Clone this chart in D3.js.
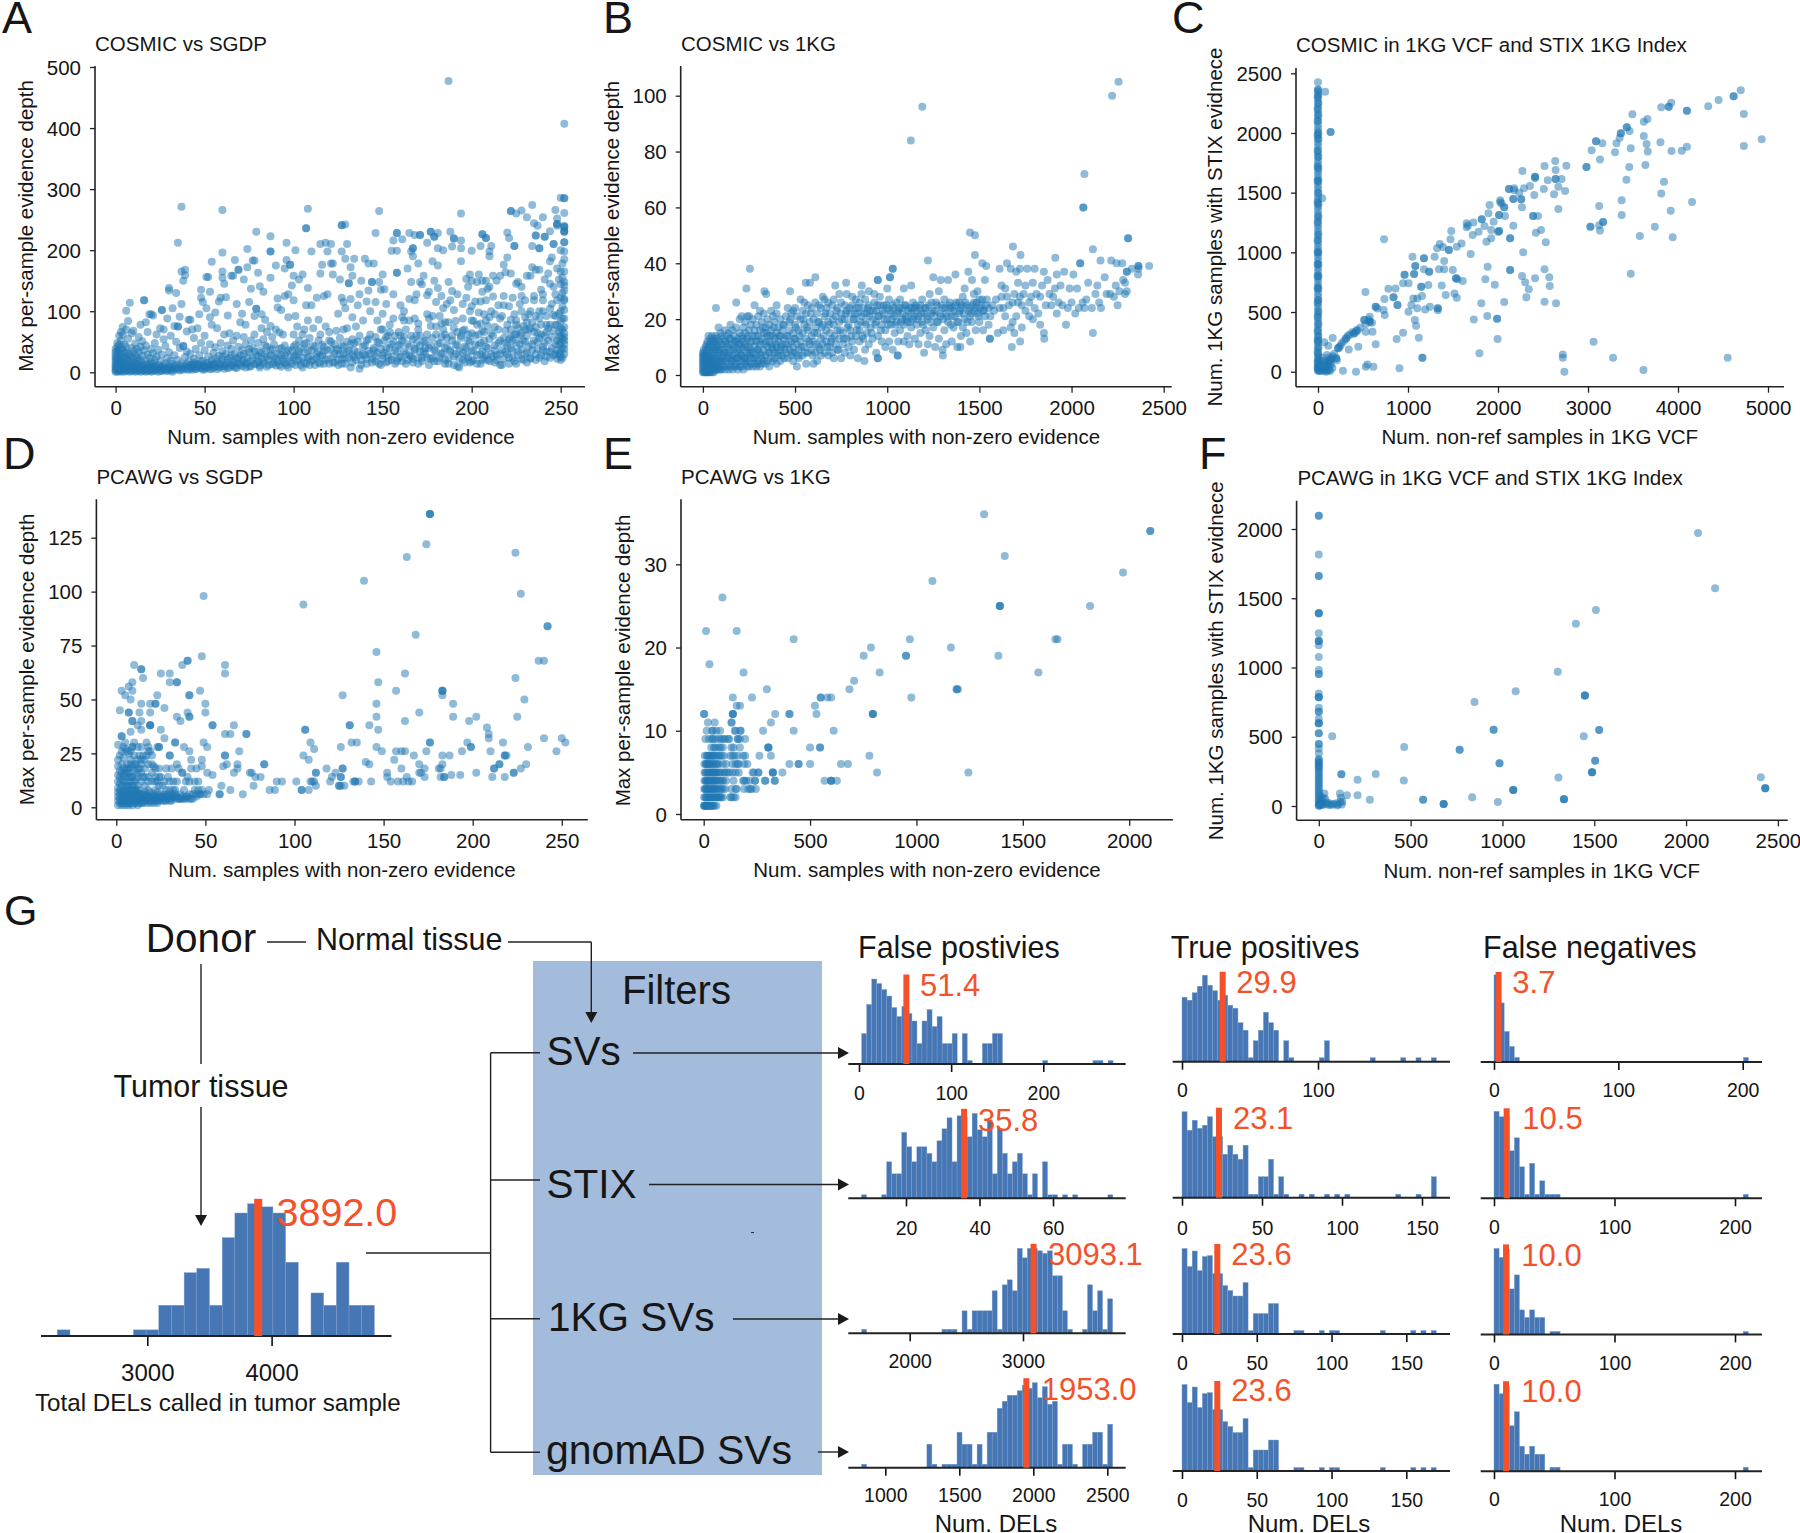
<!DOCTYPE html>
<html><head><meta charset="utf-8">
<script src="https://cdn.jsdelivr.net/npm/d3@7/dist/d3.min.js"></script>
<style>html,body{margin:0;padding:0;background:#fff}svg{display:block}text{font-family:"Liberation Sans",Arial,sans-serif;fill:#161616}</style>
</head><body><svg id="fig" width="1800" height="1533"></svg>
<script>
// Flat x,y lists
const cosmicSgdp=[187,477,252,407,37,271,60,266,108,268,148,264,194,260,222,264,222,264,228,265,234,274,250,286,252,285,252,285,252,261,247,266,225,260,231,254,240,254,248,252,235,244,237,240,35,212,79,230,87,223,87,198,87,198,74,202,60,196,54,181,96,212,101,200,107,236,107,236,127,241,127,241,129,242,146,228,130,210,115,210,118,212,121,210,110,198,119,198,127,198,158,228,158,228,161,218,156,216,165,228,168,225,171,225,171,225,177,230,177,230,179,222,179,222,181,228,188,230,190,219,190,219,194,216,206,226,206,226,208,220,208,220,220,229,221,220,224,207,224,207,210,198,211,207,205,207,200,199,194,203,189,206,184,200,181,203,175,212,167,203,167,203,166,198,158,199,155,199,236,224,236,224,241,222,241,222,244,231,248,243,248,243,248,240,252,238,252,238,252,240,252,230,252,230,252,232,252,213,252,213,246,210,246,210,234,207,238,203,238,203,
0,1,0,3,0,6,0,9,0,12,0,16,0,20,0,24,0,28,0,33,0,38,1,1,1,4,1,7,1,11,1,15,1,19,1,23,1,30,1,36,1,42,1,48,2,2,2,5,2,9,2,14,2,18,2,26,2,35,2,45,2,60,3,1,3,4,3,8,3,13,3,21,3,29,3,40,3,52,3,66,4,2,4,6,4,11,4,17,4,25,4,37,4,62,4,74,5,1,5,5,5,10,5,16,5,23,5,33,5,45,6,3,6,8,6,14,6,22,6,32,6,42,6,70,6,101,7,2,7,6,7,12,7,19,7,28,7,55,7,84,8,1,8,5,8,10,8,18,8,30,8,114,9,3,9,8,9,15,9,26,9,40,9,64,10,2,10,6,10,12,10,22,10,35,10,68,11,1,11,5,11,9,11,16,11,28,11,47,12,3,12,7,12,14,12,24,12,38,13,2,13,6,13,11,13,19,13,33,13,58,14,1,14,5,14,10,14,21,14,42,14,78,15,3,15,8,15,15,15,27,15,51,16,2,16,6,16,12,16,36,16,118,16,118,17,1,17,5,17,18,17,44,17,82,18,3,18,8,18,13,18,29,18,66,19,2,19,6,19,11,19,24,19,95,20,1,20,4,20,9,20,17,20,38,20,95,21,3,21,7,21,14,21,31,21,93,22,2,22,5,22,10,22,20,22,48,23,4,23,8,23,26,23,62,24,1,24,6,24,12,24,37,25,3,25,9,25,18,25,72,26,2,26,7,26,29,26,102,26,102,27,4,27,11,27,54,27,70,28,3,28,8,28,15,28,43,29,2,29,6,29,23,29,88,30,5,30,10,30,33,30,138,30,134,31,3,31,8,31,19,31,60,32,1,32,6,32,14,32,105,33,4,33,9,33,28,33,76,34,7,34,12,34,50,34,130,35,5,35,20,35,75,35,75,36,3,36,9,36,40,36,91,37,6,37,15,37,112,37,165,38,4,38,11,38,43,38,43,38,150,39,8,39,25,39,159,39,168,40,5,40,13,40,34,40,67,41,9,41,18,41,86,42,7,42,30,42,86,43,4,43,12,43,70,44,10,44,22,44,56,45,6,45,15,45,38,46,9,46,72,47,13,47,28,47,95,48,7,48,48,48,135,48,122,49,11,49,19,49,115,50,5,50,36,50,60,51,15,51,156,51,105,52,9,52,26,52,156,53,12,53,46,53,132,53,90,54,6,54,20,54,78,55,32,55,14,56,10,56,41,56,98,57,17,57,72,58,8,58,27,58,116,59,13,59,48,59,122,60,21,60,35,60,165,60,155,61,10,61,62,61,145,62,16,62,30,62,123,63,7,63,44,63,93,64,24,64,64,65,12,65,38,65,158,66,18,66,52,66,158,67,8,67,30,67,184,68,22,68,60,68,112,69,14,69,42,69,168,69,168,70,28,70,82,71,10,71,36,71,96,72,20,72,58,72,152,73,15,73,46,73,78,74,25,74,172,75,9,75,33,75,115,76,19,76,52,76,137,77,40,77,183,78,13,78,62,78,183,78,92,79,28,79,104,79,104,80,17,80,48,80,163,81,11,81,35,81,141,82,22,82,72,82,95,83,14,83,54,83,132,84,30,84,86,85,9,85,42,85,66,86,20,87,36,87,76,87,155,88,13,88,58,89,26,89,46,90,11,90,70,90,175,91,18,91,106,91,121,92,38,92,65,93,9,93,28,93,102,94,22,94,62,95,15,95,44,95,170,95,125,96,33,96,184,97,8,97,90,97,128,98,18,98,176,98,176,99,36,99,142,100,25,100,62,100,118,100,158,101,12,101,45,101,92,102,30,102,75,103,20,103,52,103,152,104,40,105,8,105,62,105,160,106,16,106,33,106,70,107,48,107,110,108,24,108,85,108,138,109,12,109,56,110,36,110,110,111,20,111,72,112,42,113,30,113,122,114,16,114,52,114,86,115,26,115,62,115,162,116,45,116,176,117,14,117,34,117,125,118,75,119,22,119,128,120,52,120,66,121,38,121,178,122,178,122,16,122,160,123,46,123,30,124,68,125,20,125,36,125,96,126,56,126,152,127,14,127,44,127,122,128,30,128,70,128,115,129,22,129,186,129,105,130,50,130,72,131,36,131,146,131,146,132,8,132,172,132,120,133,54,133,28,133,90,133,158,134,25,134,48,134,186,135,75,136,33,136,110,137,6,137,60,137,128,138,20,138,150,139,42,139,85,140,28,140,186,141,14,141,52,141,116,142,35,142,178,142,134,143,62,143,100,144,22,144,148,144,148,145,40,145,178,146,18,146,58,146,115,147,32,147,85,148,48,148,148,149,12,149,70,149,135,150,28,150,96,150,160,151,52,151,136,152,16,152,40,152,112,153,60,153,28,154,78,155,20,155,46,156,128,156,88,157,36,157,60,158,18,158,163,158,163,159,66,159,44,160,25,160,110,161,52,161,90,162,34,162,85,162,100,163,70,163,14,164,46,164,170,165,28,165,120,166,60,166,148,167,22,167,54,167,190,168,38,168,118,168,88,169,48,169,128,170,14,170,80,170,178,171,34,171,148,171,60,172,24,172,144,173,50,173,158,174,30,174,40,175,62,175,126,176,12,176,88,176,132,177,44,177,76,178,24,178,92,178,182,179,36,179,150,180,62,180,115,181,18,181,138,181,175,182,48,182,92,183,30,183,80,183,125,184,70,184,105,185,14,185,40,185,82,186,56,186,112,187,22,187,148,187,82,188,36,188,118,189,60,189,133,190,26,190,102,191,46,191,84,192,10,192,66,192,128,193,35,193,8,194,56,194,182,195,20,195,88,195,112,196,42,196,70,197,28,197,122,197,153,198,52,198,140,199,16,199,100,199,160,200,36,200,64,200,150,201,20,201,84,202,46,202,116,203,28,203,148,204,62,204,98,204,160,205,14,205,48,205,80,206,34,206,132,206,150,207,24,207,66,207,95,208,42,208,118,208,150,209,20,209,76,209,137,210,54,210,140,210,190,211,30,211,100,212,60,212,158,213,16,213,44,213,95,214,28,214,150,215,70,215,110,216,12,216,52,216,158,217,36,217,92,218,22,218,125,218,176,219,48,219,164,220,30,220,78,220,188,221,54,221,14,221,108,222,40,222,70,222,162,223,24,223,52,223,122,224,62,224,95,225,14,225,85,225,145,226,34,226,72,226,148,227,46,227,112,228,22,228,64,228,125,229,76,229,52,230,30,230,90,230,118,231,16,231,60,231,158,232,42,232,95,233,24,233,72,233,158,234,36,234,82,234,172,235,52,235,125,236,20,236,92,236,168,237,64,237,38,238,56,238,168,238,100,239,28,239,78,239,135,240,42,240,118,241,18,241,60,241,152,242,34,242,92,243,52,243,162,244,24,244,78,244,145,244,182,245,40,245,112,245,188,246,68,246,140,247,30,247,92,247,128,248,22,248,52,248,78,248,118,248,170,249,30,249,45,249,66,249,96,249,152,250,20,250,26,250,35,250,48,250,60,250,72,250,84,250,100,250,122,250,144,250,165,250,200,251,24,251,40,251,55,251,70,251,88,251,108,251,130,251,155,251,178,252,30,252,38,252,46,252,52,252,58,252,64,252,74,252,88,252,102,252,118,252,134,252,148,252,165,252,185,252,198,252,120,252,142,
41,4,42,12,43,8,44,16,45,5,46,12,47,7,48,18,49,4,50,10,51,7,52,15,53,5,54,12,55,8,56,22,57,5,58,14,59,9,60,26,61,6,62,12,63,20,64,8,65,28,66,11,67,16,68,7,69,24,70,12,71,18,72,30,73,8,74,14,75,38,76,10,77,22,78,34,79,14,80,26,81,8,82,32,83,18,84,44,85,25,86,12,87,28,88,38,89,16,90,22,91,30,92,12,93,40,94,18,95,28,96,12,97,36,98,24,99,14,100,42,101,28,102,18,103,34,104,12,105,24,106,46,107,14,108,36,109,26,110,18,111,44,112,12,113,24,114,34,115,14,116,28,117,42,118,20,119,36,120,14,121,50,122,26,123,16,124,38,125,12,126,30,127,22,128,42,129,14,130,34,131,24,132,46,133,16,134,36,135,20,136,50,137,28,138,12,139,30,140,44,141,22,142,54,143,30,144,16,145,36,146,26,147,50,148,14,149,38,150,22,151,32,152,58,153,18,154,40,155,26,156,50,157,14,158,34,159,24,160,46,161,18,162,58,163,30,164,20,165,42,166,26,167,16,168,36,169,60,170,24,171,44,172,18,173,34,174,52,175,24,176,40,177,22,178,56,179,18,180,34,181,46,182,24,183,58,184,32,185,20,186,44,187,14,188,34,189,52,190,12,191,30,192,44,193,22,194,60,195,32,196,16,197,40,198,24,199,50,200,18,201,34,202,60,203,14,204,44,205,30,206,20,207,52,208,28,209,40,210,18,211,64,212,26,213,36,214,20,215,48,216,30,217,12,218,56,219,34,220,44,221,24,222,58,223,36,224,18,225,48,226,28,227,60,228,38,229,20,230,50,231,32,232,70,233,22,234,46,235,66,236,30,237,50,238,24,239,62,240,36,241,48,242,26,243,72,244,34,245,58,246,28,247,46,248,36,249,58,
150,70,154,66,160,60,165,85,170,70,175,95,180,75,185,62,190,72,195,68,198,62,200,85,203,78,206,68,210,90,213,74,216,88,219,68,222,86,225,78,228,100,231,82,233,100,236,74,238,88,240,100,242,78,244,104,246,94,247,78,225,62,230,70,242,66,208,85,200,108,205,116,212,124,218,110,235,118,240,128,228,140];
const cosmic1kg=[2255,105,2220,100,1190,96,1128,84,2070,72,2064,60,2064,60,2307,49,2307,49,1449,51,1476,50,1682,46,2116,45,1476,43,1723,43,1221,41,1912,42,1516,40,1537,39,255,38,2047,40,2047,40,2157,41,2215,41,2244,40,2275,40,2421,39,2363,39,2363,38,2363,39,2327,38,2300,37,2300,37,2361,36,236,31,1030,38,1030,38,1015,35,1015,35,949,34,949,34,610,35,558,33,581,33,334,30,343,29,181,26,71,24,473,30,718,32,777,33,862,32,2116,15,1852,13,1721,12,1676,10,1557,13,1557,13,1057,7,1057,7,949,6,949,6,876,5,1302,7,1397,10,
0,1,0,2,0,3,0,4,0,5,0,6,0,7,0,8,5,1,5,3,5,5,5,7,5,9,10,1,10,2,10,4,10,6,10,8,15,1,15,3,15,5,15,7,15,10,20,1,20,2,20,4,20,6,20,9,20,11,25,1,25,3,25,5,25,8,25,12,30,1,30,2,30,4,30,6,30,10,30,14,35,1,35,3,35,5,35,7,35,11,40,1,40,2,40,4,40,6,40,9,40,13,45,2,45,3,45,5,45,8,45,12,50,1,50,3,50,6,50,10,50,14,55,2,55,4,55,7,55,11,60,1,60,3,60,5,60,9,60,13,65,2,65,4,65,8,65,12,70,2,70,3,70,6,70,10,70,14,75,2,75,5,75,9,75,13,80,3,80,4,80,7,80,11,85,2,85,6,85,10,85,17,90,3,90,8,90,12,95,2,95,5,95,9,95,15,
100,2,100,4,100,7,100,11,100,14,110,3,110,6,110,9,110,13,120,2,120,5,120,8,120,12,120,16,130,3,130,6,130,10,130,14,140,2,140,4,140,8,140,11,140,15,150,3,150,6,150,9,150,13,150,18,160,2,160,5,160,7,160,11,160,16,170,3,170,6,170,10,170,14,180,3,180,4,180,8,180,12,180,17,190,2,190,6,190,9,190,13,200,3,200,5,200,8,200,11,200,15,200,20,210,3,210,7,210,10,210,14,210,21,220,2,220,5,220,9,220,12,220,17,230,4,230,6,230,11,230,15,230,19,240,3,240,5,240,8,240,13,240,21,250,3,250,7,250,10,250,16,250,21,260,4,260,6,260,9,260,12,260,18,270,3,270,8,270,14,270,20,280,4,280,6,280,10,280,16,280,25,290,3,290,7,290,12,290,18,300,4,300,5,300,9,300,14,300,21,310,3,310,8,310,11,310,16,310,23,320,4,320,6,320,13,320,19,330,5,330,9,330,15,330,22,340,4,340,7,340,12,340,17,350,5,350,10,350,14,350,20,360,3,360,8,360,12,360,18,370,6,370,11,370,16,370,23,380,5,380,9,380,14,380,21,390,6,390,8,390,13,390,19,400,4,400,10,400,15,400,25,400,22,410,7,410,12,410,17,420,5,420,9,420,14,420,20,430,7,430,11,430,16,440,6,440,13,440,18,450,8,450,11,450,21,460,6,460,14,460,24,470,9,470,16,470,19,480,7,480,12,480,22,490,5,490,10,490,15,490,23,500,8,500,13,500,18,500,24,510,3,510,11,510,21,520,6,520,9,520,16,530,12,530,20,530,27,540,7,540,15,540,23,550,10,550,18,550,26,560,4,560,13,560,22,570,8,570,16,570,25,580,11,580,19,590,9,590,14,590,24,600,4,600,12,600,20,610,8,610,17,610,26,620,5,620,15,620,22,630,10,630,19,630,25,640,7,640,13,640,24,650,11,650,18,650,28,660,8,660,21,660,27,670,12,670,16,670,24,680,7,680,19,680,26,690,10,690,15,690,22,700,8,700,13,700,25,710,6,710,18,710,27,720,11,720,21,730,9,730,16,730,24,740,13,740,19,740,29,750,6,750,22,750,26,760,11,760,15,770,8,770,20,770,25,780,13,780,23,780,29,790,10,790,18,800,7,800,16,800,22,810,12,810,25,810,28,820,9,820,20,830,14,830,24,830,27,840,6,840,18,840,22,850,12,850,16,850,26,860,21,860,29,870,13,870,24,880,9,880,19,880,27,890,15,890,22,900,11,900,25,900,30,910,17,910,23,920,13,920,20,930,26,930,29,940,8,940,19,940,23,950,14,950,21,960,25,960,28,970,12,970,18,980,22,980,25,990,10,990,16,1000,20,1000,24,1000,31,1010,12,1010,27,1020,18,1020,22,1030,9,1030,25,1040,15,1040,21,1050,19,1050,26,1060,12,1060,23,1070,16,1070,27,1080,20,1080,24,1090,12,1090,18,1090,31,1100,21,1100,25,1110,14,1110,19,1120,11,1120,24,1130,17,1130,22,1130,32,1140,20,1140,26,1150,13,1150,24,1160,18,1160,23,1170,11,1170,21,1180,15,1180,25,1190,19,1190,27,1200,8,1200,22,1210,16,1210,24,1220,11,1220,20,1230,14,1230,29,1240,22,1240,26,1250,17,1250,35,1260,10,1260,23,1270,19,1270,25,1280,13,1280,30,1290,21,1290,34,1300,9,1300,24,1310,16,1310,27,1320,11,1320,22,1330,19,1330,34,1340,24,1340,26,1350,12,1350,21,1360,17,1360,23,1370,25,1370,36,1380,10,1380,19,1390,22,1390,26,1400,14,1400,24,1410,17,1410,28,1420,20,1420,31,1430,15,1430,25,1440,23,1440,37,1450,12,1450,21,1460,19,1460,34,1470,26,1470,29,1480,16,1480,24,1490,22,1490,30,1500,19,1500,27,1510,25,1520,16,1520,23,1530,21,1530,34,1540,27,1550,18,1550,24,1560,21,1570,25,1580,23,1590,27,1600,15,1610,24,1610,38,1620,28,1620,32,1630,16,1630,24,1640,21,1640,31,1650,28,1650,40,1660,25,1670,17,1670,38,1680,19,1680,26,1690,15,1690,29,1700,21,1700,37,1710,33,1710,26,1720,28,1720,38,1730,17,1730,25,1740,29,1750,23,1750,32,1760,38,1770,21,1770,26,1780,28,1790,20,1790,33,1800,24,1800,38,1810,29,1820,22,1830,18,1830,28,1840,32,1850,15,1850,37,1860,25,1870,34,1880,29,1890,25,1900,28,1910,31,1920,22,1920,36,1930,26,1940,32,1950,25,1960,37,1970,18,1980,24,1990,31,2000,26,2010,36,2020,22,2030,31,2040,24,2060,26,2070,24,2080,27,2090,33,2110,24,2130,29,2140,32,2150,26,2160,24,2180,35,2190,29,2210,29,2230,28,2240,32,2250,25,2260,30,2280,34,2290,33,2300,30,2290,29,
105,5,115,8,125,11,135,7,145,13,155,5,165,9,175,12,185,6,195,11,205,7,215,13,225,6,235,10,245,14,255,8,265,12,275,6,285,14,295,9,305,12,315,7,325,17,335,11,345,15,355,8,365,14,375,10,385,17,395,11,405,8,415,14,425,10,435,18,445,9,455,14,465,11,475,20,485,8,495,13,505,17,515,7,525,14,535,10,545,20,555,8,565,17,575,12,585,22,595,7,605,15,615,11,625,19,635,9,645,17,655,14,665,22,675,10,685,18,695,12,705,20,715,14,725,23,735,9,745,16,755,20,765,13,775,22,785,17,795,24,805,14,815,20,825,22,835,16,845,24,855,19,865,14,875,22,885,18,895,24,905,21,915,15,925,23,935,18,945,25,955,21,965,16,975,23,985,20,995,25,1005,18,1015,23,1025,20,1035,24,1045,18,1055,22,1065,24,1075,19,1085,22,1095,25,1105,20,1115,23,1125,19,1135,24,1145,21,1155,25,1165,20,1175,24,1185,22,1195,18,1205,24,1215,21,1225,25,1235,19,1245,23,1255,21,1265,26,1275,19,1285,22,1295,25,1305,20,1315,24,1325,21,1335,25,1345,18,1355,24,1365,21,1375,26,1385,19,1395,23,1405,25,1415,22,1425,26,1435,19,1445,24,1455,22,1465,25,1475,23,1485,26,1495,21,1505,24,1515,27,1525,23,1535,25];
const cosmicInd=[79,2346,0,2425,140,2008,140,2008,48,1453,163,282,114,218,70,246,4930,1947,4732,1891,4732,2159,4697,2358,4618,2307,4618,2307,4451,2277,4336,2223,4099,2187,4099,2187,3924,2254,3897,2220,3897,2220,3814,2215,3660,2117,3620,2095,3493,2156,3431,2047,3431,2047,3365,1997,3365,1997,3462,2017,3352,1961,3620,1975,3651,1908,3805,1922,3664,1844,3475,1872,3317,1913,3300,1838,3159,1913,3089,1930,3089,1930,3040,1855,3133,1777,2983,1715,2983,1715,3458,1715,3638,1732,3928,1849,4042,1852,4099,1885,2759,1726,2636,1765,2517,1723,2272,1682,2640,1690,3427,1609,3844,1592,3814,1494,4156,1422,3919,1349,3374,1436,3374,1313,3124,1388,3168,1254,3168,1254,3027,1215,3027,1215,3133,1182,3124,1226,3743,1215,3576,1137,3941,1126,3475,821,2640,1615,2640,1615,2706,1615,2553,1603,2412,1634,2412,1634,2412,1620,2671,1550,2746,1514,2509,1531,2623,1486,2403,1480,2355,1556,2289,1536,2122,1531,2122,1531,2179,1536,2179,1520,2236,1500,2170,1447,2170,1447,2258,1444,2258,1444,2267,1377,2671,1363,2025,1436,2025,1420,2040,1410,1907,1397,2069,1377,2069,1377,2012,1313,2012,1313,2078,1304,1894,1327,1819,1277,1819,1277,1652,1243,1652,1210,1665,1225,1727,1251,1850,1221,1951,1257,2390,1304,2390,1304,2443,1304,2170,1223,2478,1187,2421,1165,2012,1179,2012,1179,2000,1170,1924,1187,1924,1117,1872,1089,2135,1117,2135,1117,2531,1084,2280,1000,1481,1179,1595,1075,1718,1145,1784,1173,1472,1109,1388,1045,1454,1020,1454,1020,1323,1034,1353,1070,1542,1047,1696,986,734,1109,1050,964,1177,950,1177,950,1296,964,1402,927,1498,852,1344,858,1402,858,1235,838,1235,838,1177,858,1081,885,1081,885,1068,818,1068,818,962,813,962,813,945,740,1006,740,1147,712,1147,712,1226,726,1375,723,1533,782,1533,782,1550,775,1608,760,1516,656,1542,620,1419,642,1156,634,1059,614,1103,614,1243,545,1331,531,1331,531,1331,515,1037,559,1103,531,1191,522,1006,503,839,623,839,623,782,696,861,698,738,609,527,668,641,545,641,545,660,530,729,517,742,475,883,559,883,559,575,419,575,419,560,435,600,410,514,433,514,433,530,400,575,461,400,321,400,321,420,335,440,345,312,279,312,279,224,196,224,196,235,205,202,112,202,112,210,95,136,98,136,98,125,120,531,335,606,335,641,229,448,209,342,187,945,327,874,274,1120,285,1076,433,1090,385,1731,438,1881,466,1990,444,1990,444,1995,274,1793,154,1815,573,2069,584,1859,774,1885,880,1964,729,2135,852,2135,852,2267,802,2302,749,2342,690,2315,623,2412,782,2517,858,2570,791,2575,718,2517,587,2645,573,2720,145,2720,117,2737,0,3062,251,3278,117,3616,14,4552,117,1160,117,1160,117,905,28,422,0,549,61,615,42,531,42,277,8,136,8,92,0,
60,30,70,62,85,20,95,55,105,88,120,40,130,70,150,110,165,130,180,150,250,220,265,240,290,260,330,300,350,310,380,330,430,350,470,370,
0,5,0,20,0,40,0,65,0,90,0,120,0,150,0,180,0,210,0,240,0,270,0,300,0,330,0,360,0,390,0,420,0,450,0,480,0,510,0,540,0,570,0,600,0,630,0,660,0,690,0,720,0,750,0,780,0,810,0,840,0,870,0,900,0,930,0,960,0,990,0,1020,0,1050,0,1080,0,1110,0,1140,0,1170,0,1200,0,1230,0,1260,0,1290,0,1320,0,1350,0,1380,0,1410,0,1440,0,1470,0,1500,0,1530,0,1560,0,1590,0,1620,0,1650,0,1680,0,1710,0,1740,0,1770,0,1800,0,1830,0,1860,0,1890,0,1920,0,1950,0,1980,0,2010,0,2040,0,2070,0,2100,0,2130,0,2160,0,2190,0,2220,0,2250,0,2280,0,2310,0,2345,0,2360,0,2365,
4,15,4,50,4,100,4,200,4,300,4,400,4,600,4,800,4,1000,4,1300,4,1500,4,1700,4,2000,4,2250,-4,30,-4,80,-4,160,-4,260,-4,460,-4,700,-4,900,-4,1100,-4,1600,-4,1850,-4,2100,-4,2300,20,5,20,30,20,60,35,10,35,50,35,90,50,20,50,120,60,5,80,15,80,90,100,10,100,60,100,140,120,80,120,10,145,60,160,30,
4,130,4,260,4,500,4,700,4,900,4,1150,4,1400,4,1600,4,1800,4,1950,4,2150,4,2320,-4,340,-4,580,-4,800,-4,1000,-4,1250,-4,1420,-4,1720,-4,1980,-4,2200];
const pcawgSgdp=[176,136,176,136,176,136,174,122,224,118,163,116,139,105,227,99,49,98,105,94,242,84,242,84,168,80,146,72,237,68,240,68,48,70,10,66,14,64,14,64,40,68,40,68,37,66,61,66,61,62,25,62,30,62,30,58,34,58,34,58,15,60,9,58,7,56,3,54,5,52,9,54,8,50,23,52,47,54,41,52,41,52,50,48,50,44,14,48,19,48,22,48,22,48,27,46,2,45,7,44,7,44,13,44,19,44,34,42,40,44,41,42,41,42,36,40,9,40,9,40,14,40,19,38,19,38,19,38,12,38,54,38,54,38,66,38,61,34,64,34,73,34,73,34,25,36,14,36,3,33,3,33,8,35,27,32,33,30,33,30,49,30,51,28,69,26,61,24,61,24,42,22,48,22,30,24,30,24,24,28,24,28,38,28,41,26,9,28,9,28,1,29,18,28,48,19,51,16,54,15,60,19,62,20,66,16,68,20,68,18,75,16,76,16,83,20,83,20,78,14,81,14,90,12,93,12,77,10,86,8,89,8,71,6,64,8,59,10,58,6,58,6,52,8,51,6,
101,12,104,8,104,8,106,36,106,36,105,24,108,22,109,30,111,27,108,8,109,12,110,12,111,12,112,16,112,16,112,10,118,18,121,14,120,12,126,28,127,52,123,16,127,18,127,18,126,14,126,14,125,10,125,10,126,10,128,10,131,38,131,38,132,30,135,30,133,12,134,12,134,12,136,12,142,38,140,21,142,20,143,12,146,28,149,26,146,42,146,48,147,58,147,36,152,16,152,14,154,12,157,54,156,22,157,26,158,12,160,18,160,26,162,40,162,62,162,26,163,14,161,12,164,12,166,12,167,24,170,44,170,20,170,16,171,16,173,18,173,14,174,26,176,30,176,30,181,18,182,18,183,54,183,54,183,54,183,52,183,24,183,20,182,14,184,14,184,14,187,24,189,48,189,42,188,15,193,15,194,26,197,30,198,40,199,28,199,28,202,42,202,16,208,37,209,34,209,32,210,26,211,14,212,18,212,18,215,20,215,20,217,30,218,24,218,24,219,24,218,14,223,16,223,16,224,60,225,42,227,18,229,50,230,20,231,28,240,32,247,26,250,32,252,30,
1,1,1,3,1,5,1,7,1,9,1,12,1,15,1,19,1,22,2,2,2,4,2,6,2,8,2,11,2,14,2,17,2,24,3,1,3,3,3,5,3,7,3,10,3,13,3,16,3,20,3,26,4,2,4,4,4,6,4,8,4,12,4,15,4,18,4,23,5,1,5,3,5,5,5,7,5,10,5,14,5,17,5,27,5,30,6,2,6,4,6,6,6,8,6,12,6,16,6,20,7,1,7,3,7,5,7,7,7,10,7,14,7,18,7,25,8,2,8,4,8,6,8,8,8,12,8,16,8,22,9,1,9,3,9,5,9,7,9,10,9,14,9,19,10,2,10,4,10,6,10,8,10,12,10,17,10,24,11,2,11,4,11,6,11,8,11,13,11,20,12,1,12,3,12,5,12,7,12,10,12,16,12,22,13,2,13,4,13,6,13,8,13,18,13,24,14,2,14,4,14,6,14,12,14,20,14,28,15,2,15,4,15,6,15,14,15,24,16,3,16,5,16,7,16,10,16,18,17,2,17,4,17,6,17,30,17,24,18,3,18,5,18,8,18,14,18,20,19,2,19,4,19,7,19,26,20,3,20,5,20,12,20,24,21,2,21,4,21,6,21,19,22,3,22,5,22,8,22,14,23,2,23,4,23,7,23,12,23,28,24,3,24,5,24,10,24,18,25,4,25,6,25,14,26,3,26,5,27,4,27,6,27,12,28,3,28,5,28,18,29,4,29,6,29,14,30,3,30,5,30,8,31,4,31,6,31,18,32,5,32,8,32,12,33,4,33,6,33,8,34,5,34,12,34,20,35,4,35,18,36,4,36,6,37,4,37,16,37,16,38,4,38,8,39,4,39,12,40,5,40,14,41,4,41,12,42,4,42,18,43,6,44,8,44,12,45,6,45,18,46,8,46,12,47,6,47,6,48,8,49,6,
3,2,5,4,7,2,9,4,11,3,13,5,15,3,17,5,19,3,21,5,23,3,25,5,27,3,29,5,31,3,33,5,35,4,37,5,39,5,41,6,43,4,45,5,6,10,8,14,10,10,12,14,14,16,16,14,18,12,20,16,22,12,24,14,26,10,28,8,30,12,6,18,8,20,10,20,12,18,14,22,16,22,18,26,20,20,22,18,4,28,6,26,8,26,10,30,12,28];
const pcawg1kg=[1318,36,2099,34,2099,34,1415,31,1075,28,1971,29,88,26,1392,25,1392,25,1392,25,1816,25,11,22,155,22,423,21,969,21,1653,21,1663,21,786,20,1162,20,752,19,951,19,951,19,1385,19,27,18,187,17,827,17,1573,17,707,16,297,15,685,15,1189,15,1189,15,1195,15,137,14,227,14,550,14,550,14,581,14,599,14,976,14,155,13,171,13,523,13,2,12,2,12,137,12,137,12,137,12,336,12,403,12,403,12,530,12,795,12,795,12,795,12,20,11,52,11,131,11,131,11,316,11,279,10,423,10,611,10,14,10,41,10,41,10,60,10,77,10,146,10,150,10,173,10,173,10,500,8,547,8,547,8,304,8,304,8,304,8,779,7,262,7,316,7,446,6,446,6,403,6,500,6,645,6,678,6,815,5,1244,5,370,5,325,5,325,5,325,5,230,5,235,5,257,5,257,5,289,4,289,4,334,4,334,4,568,4,599,4,599,4,599,4,626,4,241,4,241,4,
8,9,25,9,40,9,42,9,55,9,70,9,82,9,90,9,100,9,115,9,120,9,160,9,160,9,170,9,195,9,35,8,48,8,55,8,70,8,80,8,90,8,130,8,140,8,170,8,5,7,15,7,25,7,35,7,42,7,50,7,60,7,75,7,85,7,95,7,125,7,135,7,145,7,160,7,185,7,195,7,3,6,12,6,22,6,30,6,38,6,48,6,58,6,70,6,90,6,105,6,135,6,150,6,160,6,165,6,190,6,205,6,4,5,15,5,25,5,35,5,45,5,55,5,65,5,80,5,95,5,110,5,120,5,135,5,150,5,165,5,4,4,12,4,20,4,30,4,42,4,50,4,62,4,85,4,92,4,105,4,140,4,185,4,190,4,200,4,215,4,3,3,10,3,20,3,30,3,40,3,50,3,60,3,75,3,90,3,100,3,130,3,150,3,155,3,190,3,210,3,220,3,225,3,245,3,2,2,12,2,22,2,32,2,42,2,52,2,62,2,72,2,82,2,90,2,125,2,130,2,140,2,150,2,2,1,2,1,8,1,15,1,22,1,30,1,38,1,45,1,50,1,60,1,
18,7,28,7,45,7,68,7,10,6,18,6,26,6,44,6,64,6,8,5,20,5,30,5,40,5,50,5,60,5,75,5,100,5,8,4,16,4,25,4,36,4,46,4,56,4,70,4,78,4,6,3,15,3,25,3,35,3,45,3,55,3,68,3,82,3,8,2,17,2,27,2,37,2,47,2,57,2,68,2,78,2,5,1,12,1,18,1,26,1,34,1];
const pcawgInd=[0,2096,0,2096,0,1815,0,1660,0,1660,0,1391,0,1391,0,1391,0,1247,0,1191,0,1191,0,1191,0,1160,0,1076,0,982,0,953,0,953,0,813,0,785,0,785,0,785,0,710,0,681,0,681,0,630,0,597,0,597,0,597,0,525,0,525,0,448,0,448,0,415,0,380,0,340,0,330,0,320,0,310,0,300,0,290,0,280,0,270,0,255,0,240,0,225,0,210,0,195,0,180,0,165,0,150,0,135,0,120,0,105,0,90,0,75,0,60,0,45,0,30,0,15,0,5,0,0,
2065,1971,2158,1572,1509,1415,1400,1316,1301,970,1072,828,848,751,1449,797,1449,797,1449,797,952,551,952,551,1527,549,1527,549,73,503,1443,503,465,426,767,407,767,407,1505,327,1505,327,984,308,984,308,1488,243,1488,243,1488,243,123,229,123,229,310,231,211,190,463,185,1305,205,2407,207,2431,128,2431,128,2431,128,1059,115,1059,115,1059,115,211,77,153,77,278,46,835,63,568,46,568,46,1335,48,1335,48,1335,48,680,14,680,14,680,14,975,29,
115,90,120,60,118,30,125,10,105,10,95,20,80,15,60,18,40,12,35,50,30,90,25,60,20,20,15,40,12,10,10,70,5,20,8,5,22,8,45,25,55,8,70,8,100,4,128,30];
// Histogram bar heights (50 equal bins)
const totalDels=[1,0,0,0,0,0,1,1,5,5,10.3,11,5,16,20,21.5,21,20,12,0,7,5,12,5,5];
const fpRaw=[6.1,11.9,17,16.1,14.9,13.6,11.3,9.5,11.5,10.1,8.6,4.1,8.6,10.9,7.5,9.5,4.1,4.1,6.1,0,6.1,.7,0,0,4.1,4.1,6.1,6.1,0,0,0,0,0,0,0,0,.7,0,0,0,0,0,0,0,0,0,.7,.7,0,.7];
const fpStix=[.7,0,0,0,.7,7.3,4.9,4.9,13.2,10.3,7.3,10.3,10.3,9,7.3,11.5,13.9,16.1,7.3,16.5,16.3,12.3,17,13.7,12.3,15.7,4.9,14,9,4.9,7.3,9,4.9,.7,4.9,0,7.3,.7,.7,0,.7,0,.7,0,0,0,0,0,0,.7];
const fp1kg=[.8,0,0,0,0,0,0,0,0,0,0,0,0,0,0,0,.8,.8,.8,0,4.5,.8,4.5,4.5,4.5,4.5,8.5,.8,9.7,10.7,8.5,17,15.1,17,17,16.5,16,16.5,11.5,11.5,4.5,.8,0,0,.8,9.7,4.5,8.5,.8,6.9];
const fpGnomad=[.7,0,0,0,0,0,0,0,0,0,0,0,0,4.7,.7,0,.7,.7,.7,7.1,4.7,4.7,.7,4.7,.7,7.1,7.1,11.9,13.3,14.5,14.5,15.4,16.5,15.9,17,14,16.2,12.7,13.3,.7,4.7,4.7,.7,0,4.7,4.7,7.1,7.1,.7,8.7];
const tpRaw=[12.9,12.3,13.8,15.1,17.3,15.3,14.2,12.3,13.3,11.3,10.7,7.8,6.3,.8,4.2,6.3,9.9,7.8,6.3,0,4.2,.8,0,0,0,0,0,.8,4.2,0,0,0,0,0,0,0,0,.8,0,0,0,0,0,.8,0,0,.8,0,0,.8];
const tpStix=[17.2,13.5,15.5,13.9,14.5,16.2,12.2,12.2,8.7,10.5,8.7,7.7,10.5,.7,.7,4.2,4.2,7.7,.7,4.2,.7,0,0,.7,0,.7,0,0,.7,0,.7,0,.7,0,0,0,0,0,0,0,0,0,.7,0,0,0,.7,0,0,4.2];
const tp1kg=[17.1,13.5,16.6,12.7,15.5,15.7,12.1,12.1,9.7,8.7,7.6,7.6,10.3,.7,4.1,4.1,4.1,6.1,6.1,0,0,0,.7,.7,0,0,0,.7,0,.7,.7,0,0,0,0,0,0,0,0,.7,0,0,0,0,0,.7,0,.7,0,.7];
const tpGnomad=[17.3,13.7,16.8,12.7,15.5,15.7,12.3,12.3,9.9,8.9,7.7,7.7,10.5,.7,4.2,4.2,4.2,6.2,6.2,0,0,0,.7,.7,0,0,0,.7,0,.7,.7,0,0,0,0,0,0,0,0,.7,0,0,0,0,0,.7,0,.7,0,.7];
const fnRaw=[17.4,11.8,6.1,3.1,.9,0,0,0,0,0,0,0,0,0,0,0,0,0,0,0,0,0,0,0,0,0,0,0,0,0,0,0,0,0,0,0,0,0,0,0,0,0,0,0,0,0,0,0,0,.9];
const fnStix=[17.4,16.3,16.5,9.5,12.1,6.3,.8,7,.8,3.5,.8,.8,.8,0,0,0,0,0,0,0,0,0,0,0,0,0,0,0,0,0,0,0,0,0,0,0,0,0,0,0,0,0,0,0,0,0,0,0,0,.8];
const fn1kg=[17.2,15.4,17,9.1,11.9,4.9,3.4,4.9,3.4,3.4,0,.6,.6,0,0,0,0,0,0,0,0,0,0,0,0,0,0,0,0,0,0,0,0,0,0,0,0,0,0,0,0,0,0,0,0,0,0,0,0,.6];
const fnGnomad=[17.4,15.5,17,9.1,11.9,5,3.4,5,3.4,3.4,0,.8,.8,0,0,0,0,0,0,0,0,0,0,0,0,0,0,0,0,0,0,0,0,0,0,0,0,0,0,0,0,0,0,0,0,0,0,0,0,.8];

const svg=d3.select('#fig');
const BLUE='#1f77b4',BAR='#4677b4',RED='#f4512a',INK='#222';
function toPairs(a){const r=[];for(let i=0;i<a.length;i+=2)r.push([a[i],a[i+1]]);return r;}
function txt(x,y,s,size,o={}){const t=svg.append('text').attr('x',x).attr('y',y).attr('font-size',size).attr('text-anchor',o.anchor||'start').text(s);if(o.fill)t.style('fill',o.fill);if(o.rot)t.attr('transform',`rotate(-90 ${x} ${y})`);return t;}
function line(x1,y1,x2,y2,w=1.4){svg.append('line').attr('x1',x1).attr('y1',y1).attr('x2',x2).attr('y2',y2).attr('stroke',INK).attr('stroke-width',w);}
function arrowD(x,y){svg.append('path').attr('d',`M${x-6},${y-11}L${x+6},${y-11}L${x},${y}Z`).attr('fill','#1a1a1a');}
function arrowR(x,y){svg.append('path').attr('d',`M${x-11},${y-6}L${x-11},${y+6}L${x},${y}Z`).attr('fill','#1a1a1a');}

const panels=[
{data:cosmicSgdp,letter:'A',lx:2,ly:33,title:'COSMIC vs SGDP',tx:95,ty:51,L:95,R:585,T:66,B:386.7,xd:[0,250],xr:[115.6,560.7],yd:[0,500],yr:[372.3,67],xt:[0,50,100,150,200,250],yt:[0,100,200,300,400,500],xl:'Num. samples with non-zero evidence',xlx:341,xly:444,yl:'Max per-sample evidence depth',ylx:32.5,yly:226,tky:415},
{data:cosmic1kg,letter:'B',lx:603,ly:33,title:'COSMIC vs 1KG',tx:681,ty:51,L:680.7,R:1171.7,T:66,B:386.7,xd:[0,2500],xr:[702.9,1163.7],yd:[0,100],yr:[375,95.7],xt:[0,500,1000,1500,2000,2500],yt:[0,20,40,60,80,100],xl:'Num. samples with non-zero evidence',xlx:926.4,xly:444,yl:'Max per-sample evidence depth',ylx:618.7,yly:226.7,tky:415},
{data:cosmicInd,letter:'C',lx:1172,ly:33,title:'COSMIC in 1KG VCF and STIX 1KG Index',tx:1296,ty:52,L:1296,R:1784,T:68,B:386.7,xd:[0,5000],xr:[1318,1768],yd:[0,2500],yr:[371.7,73.3],xt:[0,1000,2000,3000,4000,5000],yt:[0,500,1000,1500,2000,2500],xl:'Num. non-ref samples in 1KG VCF',xlx:1539.8,xly:444,yl:'Num. 1KG samples with STIX evidnece',ylx:1222.3,yly:227,tky:415},
{data:pcawgSgdp,letter:'D',lx:3,ly:469,title:'PCAWG vs SGDP',tx:96.4,ty:484,L:96.4,R:587.8,T:499.3,B:819.7,xd:[0,250],xr:[116.3,561.8],yd:[0,125],yr:[807.3,537.7],xt:[0,50,100,150,200,250],yt:[0,25,50,75,100,125],xl:'Num. samples with non-zero evidence',xlx:342,xly:877.3,yl:'Max per-sample evidence depth',ylx:33.7,yly:659.5,tky:848.3},
{data:pcawg1kg,letter:'E',lx:603,ly:469,title:'PCAWG vs 1KG',tx:681,ty:484,L:681,R:1172.9,T:499.3,B:819.7,xd:[0,2000],xr:[703.7,1129.2],yd:[0,30],yr:[814,564.3],xt:[0,500,1000,1500,2000],yt:[0,10,20,30],xl:'Num. samples with non-zero evidence',xlx:927,xly:877.3,yl:'Max per-sample evidence depth',ylx:630,yly:660.5,tky:848.3},
{data:pcawgInd,letter:'F',lx:1199,ly:469,title:'PCAWG in 1KG VCF and STIX 1KG Index',tx:1297.4,ty:485,L:1296.6,R:1787.7,T:500.7,B:820.3,xd:[0,2500],xr:[1318.8,1777.9],yd:[0,2000],yr:[806,529],xt:[0,500,1000,1500,2000,2500],yt:[0,500,1000,1500,2000],xl:'Num. non-ref samples in 1KG VCF',xlx:1541.8,xly:878,yl:'Num. 1KG samples with STIX evidnece',ylx:1223.5,yly:660.8,tky:848.3}];

panels.forEach(p=>{
 const x=d3.scaleLinear().domain(p.xd).range(p.xr),y=d3.scaleLinear().domain(p.yd).range(p.yr);
 svg.append('g').selectAll('circle').data(toPairs(p.data)).join('circle').attr('cx',d=>x(d[0])).attr('cy',d=>y(d[1])).attr('r',4).attr('fill',BLUE).attr('fill-opacity',.5);
 const ax=svg.append('g').attr('transform',`translate(0,${p.B})`).call(d3.axisBottom(x).tickValues(p.xt).tickSize(6).tickSizeOuter(0).tickFormat(d3.format('d')));
 ax.select('.domain').remove();
 ax.selectAll('line').attr('stroke',INK).attr('stroke-width',1.3);
 ax.selectAll('text').attr('font-size',20.5).attr('dy',0).attr('y',p.tky-p.B);
 const ay=svg.append('g').attr('transform',`translate(${p.L},0)`).call(d3.axisLeft(y).tickValues(p.yt).tickSize(5).tickSizeOuter(0).tickFormat(d3.format('d')));
 ay.select('.domain').remove();
 ay.selectAll('line').attr('stroke',INK).attr('stroke-width',1.3);
 ay.selectAll('text').attr('font-size',20.5).attr('x',-14).attr('dy','.35em');
 line(p.L,p.T,p.L,p.B,1.6);line(p.L,p.B,p.R,p.B,1.6);
 txt(p.lx,p.ly,p.letter,45);
 txt(p.tx,p.ty,p.title,20.5);
 txt(p.xlx,p.xly,p.xl,20.5,{anchor:'middle'});
 txt(p.ylx,p.yly,p.yl,20.5,{anchor:'middle',rot:true});
});

// Panel G: workflow
txt(4,925,'G',43);
svg.append('rect').attr('x',533).attr('y',961).attr('width',289).attr('height',514).attr('fill','#a3bcdc');
line(751,1232.6,754,1232.6,1);
txt(201,952,'Donor',40.5,{anchor:'middle'});
txt(316,949.5,'Normal tissue',30.5);
line(267,942,306,942);line(508,942,591.3,942);line(591.3,942,591.3,1013);arrowD(591.3,1023);
line(201,964,201,1064);
txt(201,1097,'Tumor tissue',30.5,{anchor:'middle'});
line(201,1107,201,1216);arrowD(201,1226);
txt(622,1003.5,'Filters',40);
txt(546.5,1065,'SVs',40.5);txt(546.5,1198,'STIX',40.5);txt(548,1331,'1KG SVs',40.5);txt(546,1464,'gnomAD SVs',41);
line(366,1253,490.6,1253);line(490.6,1052.7,490.6,1452.3);
[1052.7,1180,1318.7,1452.3].forEach(y=>line(490.6,y,540,y));
[[633,1053],[649,1184.5],[733,1319],[818,1452]].forEach(a=>{line(a[0],a[1],840,a[1]);arrowR(849,a[1]);});

function hist(o){
 const x=d3.scaleLinear().domain(o.xd).range(o.xr);
 const y=d3.scaleLinear().domain([0,20]).range([o.axisY,o.axisY-20*(o.unit||5)]);
 const n=o.counts.length,w=(o.e1-o.e0)/n;
 const bins=o.counts.map((c,i)=>({c,a:o.e0+i*w,b:o.e0+(i+1)*w})).filter(b=>b.c>0);
 svg.append('g').selectAll('rect').data(bins).join('rect').attr('x',d=>x(d.a)).attr('width',d=>x(d.b)-x(d.a)).attr('y',d=>y(d.c)).attr('height',d=>y(0)-y(d.c)).attr('fill',BAR).attr('stroke','#7fa0cc').attr('stroke-width',.4);
 const ax=svg.append('g').attr('transform',`translate(0,${o.axisY})`).call(d3.axisBottom(x).tickValues(o.ticks).tickSize(o.tick||8).tickSizeOuter(0).tickFormat(d3.format('d')));
 ax.select('.domain').remove();
 ax.selectAll('line').attr('stroke','#111').attr('stroke-width',1.6);
 ax.selectAll('text').attr('font-size',o.fs||19.5).attr('dy',0).attr('y',o.lab-o.axisY-(o.fs?1:1.2));
 line(o.ax0,o.axisY,o.ax1,o.axisY,2);
 svg.append('rect').attr('x',x(o.mean)-o.redW/2).attr('width',o.redW).attr('y',y(o.redH)).attr('height',y(0)-y(o.redH)).attr('fill',RED);
 txt(o.lx,o.ly,o.label,o.lfs||31,{fill:RED});
}
hist({counts:totalDels,e0:2276,e1:4827,xd:[3000,4000],xr:[147.3,271.6],ticks:[3000,4000],axisY:1336,unit:6.15,lab:1382,fs:24,tick:10,ax0:41,ax1:391.5,mean:3892,redW:8,redH:22.3,label:'3892.0',lx:276.5,ly:1226,lfs:39.5});
txt(35,1411,'Total DELs called in tumor sample',24.2);

txt(858,958,'False postivies',30.5);txt(1170.7,958,'True positives',30.5);txt(1483,958,'False negatives',30.5);

hist({counts:fpRaw,e0:2.9,e1:275.7,xd:[0,200],xr:[859,1043.3],ticks:[0,100,200],axisY:1064,lab:1100.7,ax0:848.3,ax1:1125.7,mean:51.4,redW:6,redH:17.9,label:'51.4',lx:920,ly:996});
hist({counts:fpStix,e0:7.9,e1:76.3,xd:[20,60],xr:[906,1053],ticks:[20,40,60],axisY:1198.3,lab:1236,ax0:848.3,ax1:1125.7,mean:35.8,redW:6,redH:17.9,label:'35.8',lx:978,ly:1131});
hist({counts:fp1kg,e0:1576,e1:3791,xd:[2000,3000],xr:[909.7,1023],ticks:[2000,3000],axisY:1333.3,lab:1369,ax0:848.3,ax1:1125.7,mean:3093.1,redW:6,redH:17.9,label:'3093.1',lx:1048,ly:1265});
hist({counts:fpGnomad,e0:840,e1:2536,xd:[1000,2500],xr:[885.3,1107.3],ticks:[1000,1500,2000,2500],axisY:1467.7,lab:1503.3,ax0:848.3,ax1:1125.7,mean:1953,redW:6,redH:17.9,label:'1953.0',lx:1041.7,ly:1400});
txt(996,1532,'Num. DELs',24,{anchor:'middle'});

hist({counts:tpRaw,e0:0,e1:187,xd:[0,100],xr:[1182,1318],ticks:[0,100],axisY:1061.7,lab:1098.3,ax0:1172.7,ax1:1450,mean:29.9,redW:6,redH:18,label:'29.9',lx:1236.3,ly:993});
hist({counts:tpStix,e0:0,e1:159,xd:[0,150],xr:[1182,1422],ticks:[0,50,100,150],axisY:1197.7,lab:1236,ax0:1172.7,ax1:1450,mean:23.1,redW:6,redH:18,label:'23.1',lx:1233,ly:1129});
hist({counts:tp1kg,e0:0,e1:170,xd:[0,150],xr:[1182,1406.3],ticks:[0,50,100,150],axisY:1334,lab:1371,ax0:1172.7,ax1:1450,mean:23.6,redW:6,redH:18,label:'23.6',lx:1231.3,ly:1265});
hist({counts:tpGnomad,e0:0,e1:170,xd:[0,150],xr:[1182,1406.3],ticks:[0,50,100,150],axisY:1471,lab:1507.7,ax0:1172.7,ax1:1450,mean:23.6,redW:6,redH:18,label:'23.6',lx:1231.3,ly:1400.5});
txt(1309,1532,'Num. DELs',24,{anchor:'middle'});

hist({counts:fnRaw,e0:0,e1:204.6,xd:[0,200],xr:[1494,1742.7],ticks:[0,100,200],axisY:1061.9,lab:1098.7,ax0:1480.7,ax1:1762,mean:3.7,redW:6,redH:18,label:'3.7',lx:1512.3,ly:992.5});
hist({counts:fnStix,e0:0,e1:211,xd:[0,200],xr:[1494,1735],ticks:[0,100,200],axisY:1198.3,lab:1235,ax0:1480.7,ax1:1762,mean:10.5,redW:6,redH:18,label:'10.5',lx:1522.3,ly:1129});
hist({counts:fn1kg,e0:0,e1:211,xd:[0,200],xr:[1494,1735],ticks:[0,100,200],axisY:1334.4,lab:1371.5,ax0:1480.7,ax1:1762,mean:10,redW:6,redH:18,label:'10.0',lx:1521.3,ly:1265.5});
hist({counts:fnGnomad,e0:0,e1:211,xd:[0,200],xr:[1494,1735],ticks:[0,100,200],axisY:1471.2,lab:1507.6,ax0:1480.7,ax1:1762,mean:10,redW:6,redH:18,label:'10.0',lx:1521.3,ly:1401.5});
txt(1621,1532,'Num. DELs',24,{anchor:'middle'});
</script></body></html>
